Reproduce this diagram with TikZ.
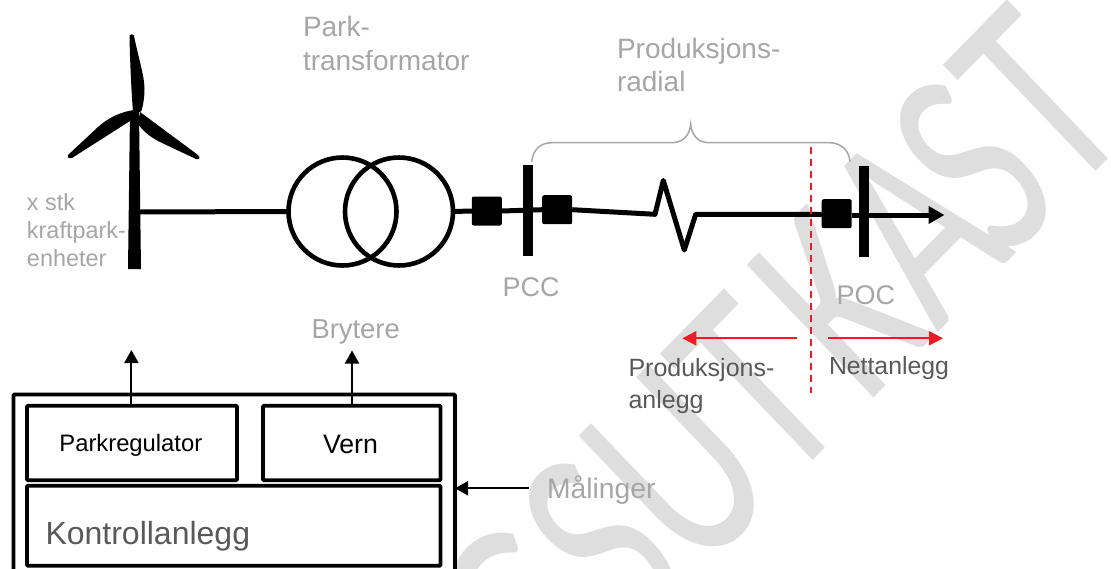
\documentclass[tikz,border=0pt]{standalone}
\usepackage{fontspec}
\setmainfont{Liberation Sans}
\newfontfamily\wmfont{Carlito}[Kerning=Off]
\usetikzlibrary{arrows.meta}
\definecolor{txtgray}{HTML}{A6A6A6}
\definecolor{txtdark}{HTML}{595959}
\definecolor{wmgray}{HTML}{DEDEDE}
\definecolor{redline}{HTML}{ED1C24}
\tikzset{
  lbl/.style={inner sep=0pt,outer sep=0pt,anchor=base west,align=left},
  lblgray/.style={lbl,text=txtgray},
  lbldark/.style={lbl,text=txtdark},
  wire/.style={draw=black,line width=5pt},
  breaker/.style={fill=black,rounded corners=2pt,inner sep=0pt,outer sep=0pt,minimum width=30pt,minimum height=29pt},
  busbar/.style={fill=black,inner sep=0pt,outer sep=0pt,minimum width=10pt,minimum height=91pt},
  trafo/.style={circle,draw=black,line width=4.6pt,inner sep=0pt,outer sep=0pt,minimum size=108pt},
  ctrl/.style={draw=black,line width=3.8pt,rounded corners=1pt,inner sep=0pt,outer sep=0pt,anchor=north west},
  sigarrow/.style={draw=black,line width=2pt,-{Triangle[length=13pt,width=14pt]}},
  redarrow/.style={draw=redline,line width=2pt,-{Triangle[length=14pt,width=14pt]}},
  reddash/.style={draw=redline,line width=2pt,dash pattern=on 7pt off 5pt},
  bracestyle/.style={draw=txtgray,line width=1.5pt}
}
\begin{document}
\begin{tikzpicture}[x=1pt,y=-1pt]
\useasboundingbox (0,0) rectangle (1111,568);
\clip (0,0) rectangle (1111,568);
% watermark
\node[inner sep=0pt,anchor=base east,rotate=43.7,yslant=0.033,xscale=0.69,yscale=1,text=wmgray,transform shape] (wm) at (1135.5,130.8)
  {\fontsize{286pt}{286pt}\selectfont\wmfont GSUT\kern26pt KA\kern-26pt ST};
% turbine
\fill[black] (130,112) -- (139,112) -- (141,269) -- (128,269) -- cycle;
\fill[black,rounded corners=1pt] (129.5,36) .. controls (130.5,34) and (133,34) .. (134,36)
  .. controls (139,60) and (144,75) .. (144.5,88) .. controls (144.5,98) and (143,106) .. (141,112)
  -- (133,112) .. controls (131,85) and (130,60) .. (129.5,36) -- cycle;
\fill[black] (134,110) .. controls (120,112) and (108,118) .. (98,127) -- (68,155)
  .. controls (67,158) and (70,159) .. (72,158) -- (130,121) -- cycle;
\fill[black] (140,112) -- (198,155) .. controls (201,158) and (199,160) .. (196,159)
  -- (160,142) .. controls (150,137) and (143,131) .. (138,124) -- cycle;
% nodes
\coordinate (tower) at (139,212);
\node[trafo] (trafoL) at (342.5,211.5) {};
\node[trafo] (trafoR) at (399,211.5) {};
\node[breaker] (brkA) at (486.8,211) {};
\node[busbar] (busA) at (527.7,210.5) {};
\node[breaker] (brkB) at (557.2,209.7) {};
\node[breaker] (brkC) at (836.7,213.7) {};
\node[busbar] (busB) at (863.7,211.3) {};
\coordinate (zigA) at (655,214.3);
\coordinate (zigB) at (663.3,180.5);
\coordinate (zigC) at (684.3,250);
\coordinate (zigD) at (695.7,214.3);
\coordinate (gridEnd) at (944.5,215);
% wires
\draw[wire] (tower) -- (trafoL.west);
\draw[wire] (trafoR.east) -- (brkA.west);
\draw[wire] (brkA.east) -- (brkB.west);
\draw[wire,line join=round] (brkB.east) -- (zigA) -- (zigB) -- (zigC) -- (zigD) -- (brkC.west |- zigD) -- (brkC.west);
\draw[wire,-{Triangle[length=16pt,width=17pt]}] (brkC.east |- gridEnd) -- (gridEnd);
% brace
\coordinate (brL) at (531.7,161.7);
\coordinate (brT) at (690.7,124);
\coordinate (brR) at (850,161.7);
\draw[bracestyle] (brL) .. controls (533,150) and (540,142.7) .. (552,142.7) -- (672,142.7)
  .. controls (683,142.7) and (690,135) .. (brT) .. controls (691.5,135) and (698,142.7) .. (709,142.7)
  -- (829,142.7) .. controls (841,142.7) and (849,150) .. (brR);
% red
\coordinate (splitT) at (811,146.7);
\coordinate (splitB) at (811,392.7);
\coordinate (prodS) at (796.7,338.3);
\coordinate (prodE) at (682.3,338.3);
\coordinate (netS) at (828.3,338.3);
\coordinate (netE) at (943,338.3);
\draw[reddash] (splitT) -- (splitB);
\draw[redarrow] (prodS) -- (prodE);
\draw[redarrow] (netS) -- (netE);
% control boxes
\node[ctrl,minimum width=441.5pt,minimum height=190pt] (outer) at (13.5,394.5) {};
\node[ctrl,minimum width=210pt,minimum height=74.5pt] (park) at (27,405.7) {};
\node[ctrl,minimum width=177.5pt,minimum height=74.5pt] (vern) at (263,405.7) {};
\node[ctrl,minimum width=413.5pt,minimum height=80pt] (kontroll) at (27,485.7) {};
\coordinate (parkUp) at (131.4,350);
\coordinate (vernUp) at (352,350.5);
\coordinate (maalS) at (529,488.3);
\draw[sigarrow] (parkUp |- park.north) -- (parkUp);
\draw[sigarrow] (vernUp |- vern.north) -- (vernUp);
\draw[sigarrow] (maalS) -- (outer.east |- maalS);
% labels
\node[lblgray,font=\fontsize{28}{33}\selectfont] (tParkA) at (303,36.7) {Park-};
\node[lblgray,font=\fontsize{28}{33}\selectfont] (tParkB) at (303,70) {transformator};
\node[lblgray,font=\fontsize{28}{33}\selectfont] (tProdA) at (617,58) {Produksjons-};
\node[lblgray,font=\fontsize{28}{33}\selectfont] (tProdB) at (617,91) {radial};
\node[lblgray,font=\fontsize{23.4}{28}\selectfont] (tXa) at (27,210) {x stk};
\node[lblgray,font=\fontsize{23.4}{28}\selectfont] (tXb) at (27,238) {kraftpark-};
\node[lblgray,font=\fontsize{23.4}{28}\selectfont] (tXc) at (27,266) {enheter};
\node[lblgray,font=\fontsize{27}{33}\selectfont] (tPCC) at (502.5,296) {PCC};
\node[lblgray,font=\fontsize{27}{33}\selectfont] (tPOC) at (836.5,304) {POC};
\node[lblgray,font=\fontsize{27.4}{33}\selectfont] (tBry) at (311.5,338) {Brytere};
\node[lblgray,font=\fontsize{28.3}{33}\selectfont] (tMaal) at (547,498) {Målinger};
\node[lbldark,font=\fontsize{25}{31}\selectfont] (tPAa) at (628.5,376.7) {Produksjons-};
\node[lbldark,font=\fontsize{25}{31}\selectfont] (tPAb) at (628.5,408) {anlegg};
\node[lbldark,font=\fontsize{24.8}{31}\selectfont] (tNett) at (829,374.3) {Nettanlegg};
\node[lbl,font=\fontsize{23.8}{28}\selectfont] (tParkreg) at (59.4,451.7) {Parkregulator};
\node[lbl,font=\fontsize{26.7}{30}\selectfont] (tVern) at (323,453) {Vern};
\node[lbldark,font=\fontsize{32}{38}\selectfont] (tKontroll) at (45.5,544.5) {Kontrollanlegg};
\end{tikzpicture}
\end{document}
